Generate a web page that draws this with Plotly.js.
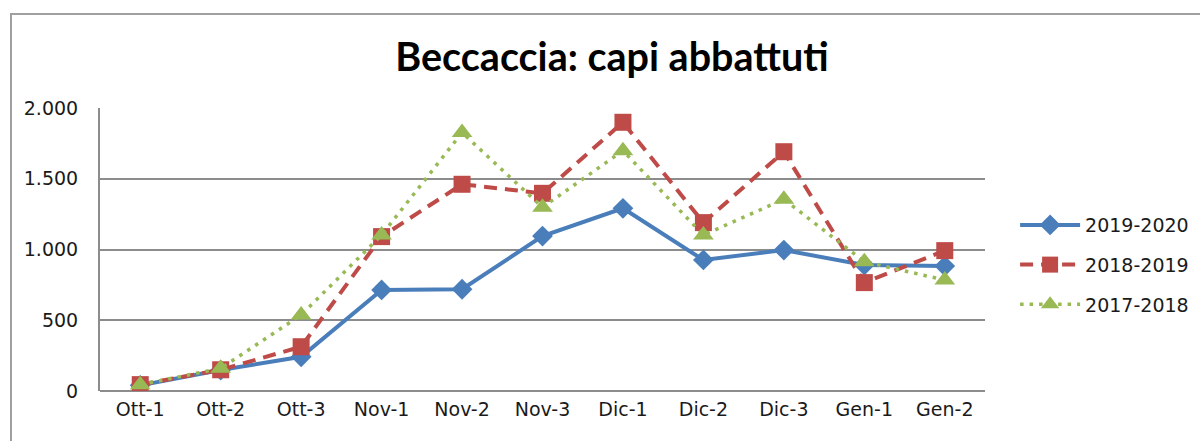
<!DOCTYPE html>
<html>
<head>
<meta charset="utf-8">
<script src="https://cdn.plot.ly/plotly-3.0.1.min.js"></script>
<style>
    body { margin: 0; background: #ffffff; }
    #wrap { position: relative; width: 1200px; height: 441px; overflow: hidden; }
    #frame { position: absolute; left: 10px; top: 13px; width: 1300px; height: 500px;
             border-left: 2px solid #a0a0a0; border-top: 2px solid #a0a0a0; pointer-events: none; }
    #chart { width: 1200px; height: 441px; }
</style>
</head>
<body>
<div id="wrap">
    <div id="chart"></div>
    <div id="frame"></div>
</div>
<script>
// Decadi di caccia
const periods = ["Ott-1", "Ott-2", "Ott-3", "Nov-1", "Nov-2", "Nov-3",
                 "Dic-1", "Dic-2", "Dic-3", "Gen-1", "Gen-2"];

// Capi abbattuti per stagione
const s2019_2020 = [40, 148, 242, 714, 719, 1095, 1291, 926, 996, 890, 883];
const s2018_2019 = [45, 150, 313, 1091, 1461, 1397, 1899, 1190, 1691, 766, 992];
const s2017_2018 = [45, 160, 537, 1102, 1826, 1298, 1698, 1102, 1355, 914, 784];

const yTicks = [0, 500, 1000, 1500, 2000];

const tickFamily = "DejaVu Sans";

let traces = [
    {
        x: periods, y: s2019_2020, name: "2019-2020", mode: "lines+markers",
        legendgroup: "a",
        line: {color: "#4A7EBB", width: 4},
        marker: {symbol: "diamond", size: 16, color: "#4A7EBB"}
    },
    {
        x: periods, y: s2018_2019, name: "2018-2019", mode: "lines+markers",
        legendgroup: "b",
        line: {color: "#BE4B48", width: 4, dash: "13px,8px"},
        marker: {symbol: "square", size: 17, color: "#BE4B48"}
    },
    {
        x: periods, y: s2017_2018, name: "2017-2018", mode: "lines+markers",
        legendgroup: "c",
        line: {color: "#98B954", width: 3.5, dash: "3.5px,6px"},
        marker: {symbol: "triangle-up", size: 18, color: "#98B954"}
    }
];

let layout = {
    width: 1200,
    height: 441,
    margin: {l: 100, r: 215, t: 108, b: 50, autoexpand: false},
    paper_bgcolor: "#ffffff",
    plot_bgcolor: "#ffffff",
    separators: ",.",
    font: {family: tickFamily, size: 19, color: "#1a1a1a"},
    title: {
        text: "<b>Beccaccia: capi abbattuti</b>",
        font: {family: "Lato", size: 39.5, color: "#000000"},
        x: 0.51, xanchor: "center",
        y: 0.87, yanchor: "middle"
    },
    xaxis: {
        type: "category",
        range: [-0.5, 10.5],
        showgrid: false,
        zeroline: false,
        showline: false,
        ticks: "",
        ticklabelstandoff: 5,
        tickfont: {family: tickFamily, size: 19}
    },
    yaxis: {
        range: [0, 2000],
        tickvals: yTicks,
        tickformat: ",d",
        showgrid: true,
        gridcolor: "#8c8c8c",
        gridwidth: 2,
        zeroline: true,
        zerolinecolor: "#8c8c8c",
        zerolinewidth: 2,
        showline: true,
        linecolor: "#8c8c8c",
        linewidth: 2,
        ticks: "",
        ticklabelstandoff: 16,
        tickfont: {family: tickFamily, size: 19}
    },
    showlegend: true,
    legend: {
        x: 1.034, xanchor: "left",
        y: 0.445, yanchor: "middle",
        font: {family: tickFamily, size: 19},
        traceorder: "grouped",
        itemwidth: 60,
        tracegroupgap: 12,
        bgcolor: "rgba(0,0,0,0)"
    }
};

Plotly.newPlot("chart", traces, layout, {displayModeBar: false, staticPlot: true});
</script>
</body>
</html>
